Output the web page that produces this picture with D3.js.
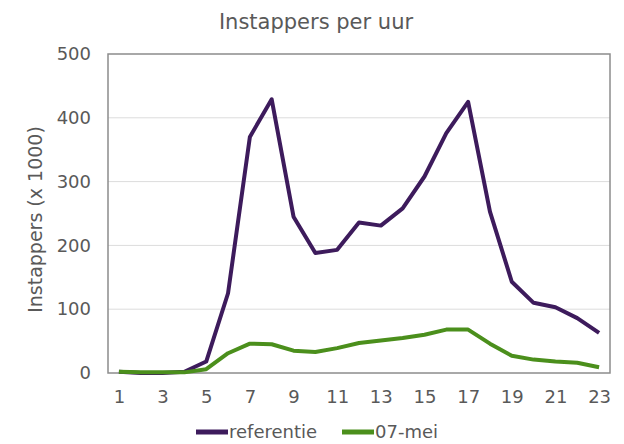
<!DOCTYPE html>
<html>
<head>
<meta charset="utf-8">
<script src="https://cdn.jsdelivr.net/npm/d3@7"></script>
<style>
  body { margin: 0; background: #fff; }
  text { font-family: "DejaVu Sans", Verdana, sans-serif; fill: #595959; }
</style>
</head>
<body>
<svg id="chart" width="624" height="444"></svg>
<script>
"use strict";

// uur van de dag
const hours = d3.range(1, 24);
const hourTicks = hours.filter(h => h % 2 === 1);
const yTicks = [0, 100, 200, 300, 400, 500];

// instappers (x 1000)
const referentie = [2, 0, 0, 2, 18, 125, 370, 429, 245, 188, 193, 236, 231, 258, 308, 376, 425, 253, 143, 110, 103, 86, 63];
const mei07 = [2, 1, 1, 1, 6, 31, 46, 45, 35, 33, 39, 47, 51, 55, 60, 68, 68, 46, 27, 21, 18, 16, 9];

const seriesNames = ['referentie', '07-mei'];
const seriesColors = ['#3d1b5c', '#4b8f1c'];

const svg = d3.select('#chart');
const frame = { left: 108, right: 610, top: 54, bottom: 373 };

const x = d3.scalePoint()
    .domain(hours)
    .range([frame.left, frame.right])
    .padding(0.5);

const y = d3.scaleLinear()
    .domain([0, 500])
    .range([frame.bottom, frame.top]);

// title
svg.append('text')
    .attr('x', 316)
    .attr('y', 29)
    .attr('text-anchor', 'middle')
    .style('font-size', '21px')
    .text('Instappers per uur');

// gridlines
svg.append('g')
    .selectAll('line')
    .data(yTicks.filter(t => t > 0 && t < 500))
    .enter()
    .append('line')
    .attr('x1', frame.left)
    .attr('x2', frame.right)
    .attr('y1', d => y(d))
    .attr('y2', d => y(d))
    .attr('stroke', '#dcdcdc')
    .attr('stroke-width', 1);

// y axis
const yAxis = svg.append('g')
    .attr('transform', `translate(${frame.left},0)`)
    .call(d3.axisLeft(y).tickValues(yTicks).tickSize(0).tickPadding(17));
yAxis.select('.domain').remove();
yAxis.selectAll('text')
    .style('font-size', '18px')
    .style('fill', '#595959');

// x axis
const xAxis = svg.append('g')
    .attr('transform', `translate(0,${frame.bottom})`)
    .call(d3.axisBottom(x).tickValues(hourTicks).tickSize(0).tickPadding(17));
xAxis.select('.domain').remove();
xAxis.selectAll('text')
    .style('font-size', '18px')
    .style('fill', '#595959');

// frame
svg.append('rect')
    .attr('x', frame.left)
    .attr('y', frame.top)
    .attr('width', frame.right - frame.left)
    .attr('height', frame.bottom - frame.top)
    .attr('fill', 'none')
    .attr('stroke', '#8c8c8c')
    .attr('stroke-width', 1.5);

// y axis title
svg.append('text')
    .attr('transform', `translate(42,${(frame.top + frame.bottom) / 2 + 6}) rotate(-90)`)
    .attr('text-anchor', 'middle')
    .style('font-size', '19px')
    .text('Instappers (x 1000)');

// lines
const line = d3.line()
    .x((d, i) => x(hours[i]))
    .y(d => y(d));

[referentie, mei07].forEach((values, i) => {
    svg.append('path')
        .datum(values)
        .attr('d', line)
        .attr('fill', 'none')
        .attr('stroke', seriesColors[i])
        .attr('stroke-width', 4)
        .attr('stroke-linejoin', 'round');
});

// legend
const legendPos = [196, 342];
const legend = svg.append('g')
    .selectAll('g')
    .data(seriesNames)
    .enter()
    .append('g')
    .attr('transform', (d, i) => `translate(${legendPos[i]},432)`);

legend.append('line')
    .attr('x1', 0)
    .attr('x2', 32)
    .attr('stroke', (d, i) => seriesColors[i])
    .attr('stroke-width', 5);

legend.append('text')
    .attr('x', 33)
    .attr('y', 6)
    .style('font-size', '18px')
    .text(d => d);
</script>
</body>
</html>
